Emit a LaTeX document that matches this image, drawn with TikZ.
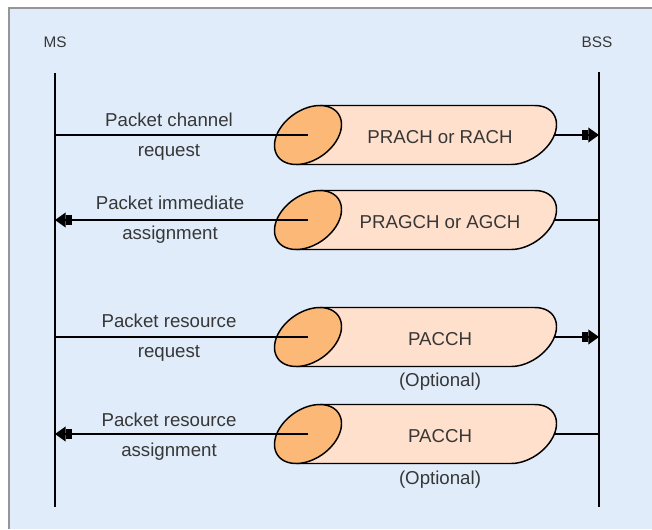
\documentclass[tikz,border=0pt]{standalone}
\usepackage{fontspec}
\setmainfont{Liberation Sans}
\usetikzlibrary{arrows.meta}
\definecolor{bgblue}{RGB}{224,236,250}
\definecolor{capor}{RGB}{252,184,118}
\definecolor{bodypk}{RGB}{255,224,204}
\definecolor{txt}{RGB}{55,55,55}
\definecolor{framegray}{RGB}{150,150,150}
\tikzset{
  life/.style={line width=1.8pt, black},
  msg/.style={line width=1.4pt, black},
  tipend/.style={-{Square[length=5pt,width=8pt,sep=0pt]Triangle[length=8pt,width=11pt]}},
  lbl/.style={font=\fontsize{14}{22.5}\selectfont, text=txt, align=center, inner sep=0pt},
  chn/.style={font=\fontsize{14}{16}\selectfont, text=txt, inner sep=0pt},
  ent/.style={font=\fontsize{11.5}{13}\selectfont, text=txt, inner sep=0pt},
  cylline/.style={line width=1.1pt, black, line join=round},
}
\newcommand{\mycyl}[3]{%
  \fill[bodypk] (319.8,#2-29.5) -- (534.8,#2-29.5)
    -- plot[domain=-44:136,samples=40,variable=\t]
       ({523+30.3*cos(\t)+14.3*sin(\t)},{#2-21.2*cos(\t)+20.5*sin(\t)})
    -- (296.2,#2+29.5) -- cycle;
  \draw[cylline] (319.8,#2-29.5) -- (534.8,#2-29.5)
    -- plot[domain=-44:136,samples=40,variable=\t]
       ({523+30.3*cos(\t)+14.3*sin(\t)},{#2-21.2*cos(\t)+20.5*sin(\t)})
    -- (296.2,#2+29.5);
  \filldraw[cylline, fill=capor]
    plot[domain=0:360,samples=73,variable=\t]
       ({308+30.3*cos(\t)+14.3*sin(\t)},{#2-21.2*cos(\t)+20.5*sin(\t)}) -- cycle;
  \node[chn] (#1) at (440,#2+2) {#3};
}
\begin{document}
\begin{tikzpicture}[x=0.75pt,y=-0.75pt]
\useasboundingbox (0,0) rectangle (652,529);
\fill[bgblue] (9,8) rectangle (652,529);
\draw[framegray, line width=0.8pt] (9,529) -- (9,8) -- (652,8);

% entities
\node[ent] (ms) at (55,42) {MS};
\node[ent] (bss) at (597,42) {BSS};
\coordinate (mstop) at (55,73);
\coordinate (msbot) at (55,507);
\coordinate (bsstop) at (599,72);
\coordinate (bssbot) at (599,507);
\draw[life] (mstop) -- (msbot);
\draw[life] (bsstop) -- (bssbot);

% coordinates for rows
\foreach \i/\y in {1/135,2/220,3/337,4/434}{
  \coordinate (ms\i) at (55,\y);
  \coordinate (bss\i) at (599,\y);
  \coordinate (cl\i) at (308,\y);
  \coordinate (cr\i) at (523,\y);
}

% row 1
\draw[msg,tipend] (cr1) -- (bss1);
\mycyl{ch1}{135}{PRACH or RACH}
\draw[msg] (ms1) -- (cl1);
\node[lbl] (lab1) at (169,137) {Packet channel\\request};

% row 2
\draw[msg] (bss2) -- (cr2);
\mycyl{ch2}{220}{PRAGCH or AGCH}
\draw[msg,tipend] (cl2) -- (ms2);
\node[lbl] (lab2) at (170,220) {Packet immediate\\assignment};

% row 3
\draw[msg,tipend] (cr3) -- (bss3);
\mycyl{ch3}{337}{PACCH}
\draw[msg] (ms3) -- (cl3);
\node[lbl] (lab3) at (169,338) {Packet resource\\request};
\node[chn] (opt3) at (440,382) {(Optional)};

% row 4
\draw[msg] (bss4) -- (cr4);
\mycyl{ch4}{434}{PACCH}
\draw[msg,tipend] (cl4) -- (ms4);
\node[lbl] (lab4) at (169,437) {Packet resource\\assignment};
\node[chn] (opt4) at (440,480) {(Optional)};
\end{tikzpicture}
\end{document}
